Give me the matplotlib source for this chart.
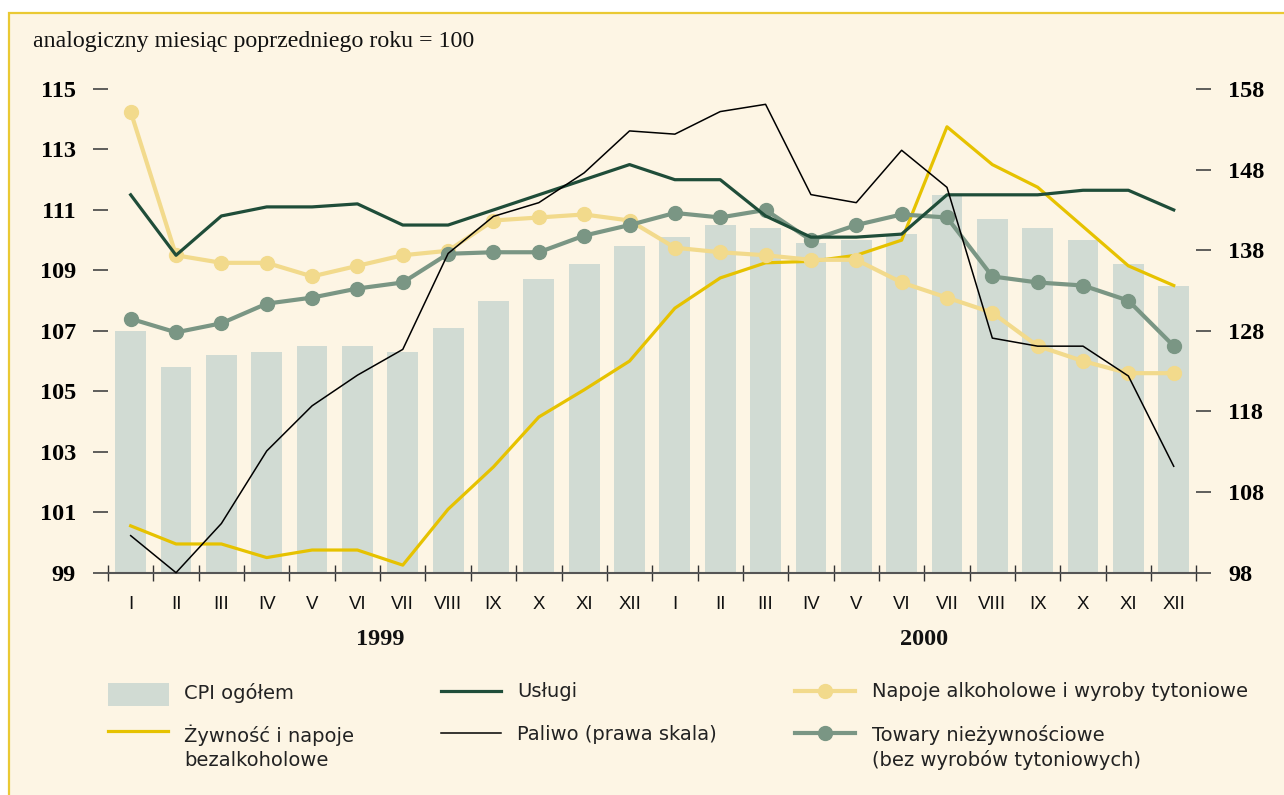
import numpy as np
import matplotlib
matplotlib.use("Agg")
import matplotlib.pyplot as plt
from matplotlib.patches import Rectangle
from matplotlib.lines import Line2D

months = ["I", "II", "III", "IV", "V", "VI", "VII", "VIII", "IX", "X", "XI", "XII"] * 2
years = ["1999", "2000"]

cpi = [107.0, 105.8, 106.2, 106.3, 106.5, 106.5, 106.3, 107.1, 108.0, 108.7, 109.2, 109.8,
       110.1, 110.5, 110.4, 109.9, 110.0, 110.2, 111.5, 110.7, 110.4, 110.0, 109.2, 108.5]
uslugi = [111.5, 109.5, 110.8, 111.1, 111.1, 111.2, 110.5, 110.5, 111.0, 111.5, 112.0, 112.5,
          112.0, 112.0, 110.8, 110.1, 110.1, 110.2, 111.5, 111.5, 111.5, 111.65, 111.65, 111.0]
zywnosc = [100.55, 99.95, 99.95, 99.5, 99.75, 99.75, 99.25, 101.1, 102.5, 104.15, 105.05, 106.0,
           107.75, 108.75, 109.25, 109.3, 109.5, 110.0, 113.75, 112.5, 111.75, 110.45, 109.15, 108.5]
napoje = [114.25, 109.5, 109.25, 109.25, 108.8, 109.15, 109.5, 109.65, 110.65, 110.75, 110.85, 110.65,
          109.75, 109.6, 109.5, 109.35, 109.35, 108.6, 108.1, 107.6, 106.5, 106.0, 105.6, 105.6]
towary = [107.4, 106.95, 107.25, 107.9, 108.1, 108.4, 108.6, 109.55, 109.6, 109.6, 110.15, 110.5,
          110.9, 110.75, 111.0, 110.0, 110.5, 110.85, 110.75, 108.8, 108.6, 108.5, 108.0, 106.5]
paliwo = [102.6, 98.0, 104.1, 113.1, 118.7, 122.5, 125.7, 137.6, 142.2, 143.9, 147.6, 152.8,
          152.4, 155.2, 156.1, 144.9, 143.9, 150.4, 145.8, 127.1, 126.1, 126.1, 122.4, 111.2]

CREAM = "#fdf5e4"
BORDER = "#eac933"
BAR = "#d1dbd3"
DG = "#1f4d39"
YEL = "#e6c200"
LY = "#f2da8c"
GG = "#7a9684"
SERIF = "Liberation Serif"
SANS = "Liberation Sans"
LEGSANS = "DejaVu Sans"

W, H = 1284, 795
fig = plt.figure(figsize=(12.84, 7.95), dpi=100)
fig.patch.set_facecolor("white")

def fx(p):
    return p / W

def fy(p):
    return 1 - p / H

fig.add_artist(Rectangle((fx(9), fy(820)), 1.2, fy(13) - fy(820), transform=fig.transFigure,
                         facecolor=CREAM, edgecolor=BORDER, lw=1.6, zorder=-5))

ax = fig.add_axes([fx(108), fy(572.7), fx(1196.4) - fx(108), fy(89) - fy(572.7)])
ax.set_facecolor("none")
ax2 = ax.twinx()

x = np.arange(len(cpi))
ax.bar(x, cpi, width=0.68, color=BAR, zorder=1)
ax.plot(x, zywnosc, color=YEL, lw=2.3, zorder=3)
ax.plot(x, napoje, color=LY, lw=3, marker="o", ms=10, zorder=4)
ax.plot(x, towary, color=GG, lw=3, marker="o", ms=10, zorder=5)
ax.plot(x, uslugi, color=DG, lw=2.3, zorder=6)
ax2.plot(x, paliwo, color="black", lw=1.1, clip_on=False)

ax.set_xlim(-0.5, 23.5)
ax.set_ylim(99, 115)
ax2.set_ylim(98, 158)
ax.set_yticks(np.arange(99, 116, 2))
ax2.set_yticks(np.arange(98, 159, 10))

for s in ax.spines.values():
    s.set_visible(False)
for s in ax2.spines.values():
    s.set_visible(False)
ax.spines["bottom"].set_visible(True)
ax.spines["bottom"].set_color("#555555")
ax.spines["bottom"].set_linewidth(1.5)
ax.spines["bottom"].set_zorder(7)

for a in (ax, ax2):
    a.tick_params(axis="y", direction="out", length=11, width=1.2, color="#444444", pad=12)
    for lab in a.get_yticklabels():
        lab.set_fontfamily(SERIF)
        lab.set_fontweight("bold")
        lab.set_fontsize(17.5)

ax.set_xticks(np.arange(-0.5, 24, 1))
ax.set_xticklabels([])
ax.set_xticks(x, minor=True)
ax.set_xticklabels(months, minor=True, fontfamily=SANS, fontsize=13.4, color="#111111")
ax.tick_params(axis="x", which="major", direction="inout", length=11, width=1, color="#333333")
ax.tick_params(axis="x", which="minor", length=0, pad=17)

for i, yr in enumerate(years):
    ax.text(5.5 + 12 * i, -0.139, yr, transform=ax.get_xaxis_transform(), ha="center", va="center",
            fontfamily=SERIF, fontweight="bold", fontsize=17.5, color="#111111")

fig.text(fx(33), fy(47), "analogiczny miesiąc poprzedniego roku = 100", fontfamily=SERIF,
         fontsize=17.2, va="baseline", ha="left", color="#111111")

# legend
fig.add_artist(Rectangle((fx(108), fy(706)), fx(169) - fx(108), fy(683) - fy(706),
                         transform=fig.transFigure, facecolor=BAR, edgecolor="none"))
leg_lines = [
    (108, 731, dict(color=YEL, lw=2.3)),
    (441, 691, dict(color=DG, lw=2.3)),
    (441, 733, dict(color="black", lw=1.1)),
    (795, 691, dict(color=LY, lw=3, marker="o", ms=10, markevery=[1])),
    (795, 733, dict(color=GG, lw=3, marker="o", ms=10, markevery=[1])),
]
for x0, y0, kw in leg_lines:
    fig.add_artist(Line2D([fx(x0), fx(x0 + 30), fx(x0 + 60)], [fy(y0)] * 3,
                          transform=fig.transFigure, **kw))

leg_texts = [
    (184, 693, "CPI ogółem"),
    (184, 735, "Żywność i napoje\nbezalkoholowe"),
    (517, 692, "Usługi"),
    (517, 735, "Paliwo (prawa skala)"),
    (872, 692, "Napoje alkoholowe i wyroby tytoniowe"),
    (872, 735, "Towary nieżywnościowe\n(bez wyrobów tytoniowych)"),
]
for x0, y0, t in leg_texts:
    fig.text(fx(x0), fy(y0 - 10), t, fontfamily=LEGSANS, fontsize=14, color="#222222",
             ha="left", va="top", linespacing=1.32)

fig.savefig("out.png", dpi=100, facecolor="white")
